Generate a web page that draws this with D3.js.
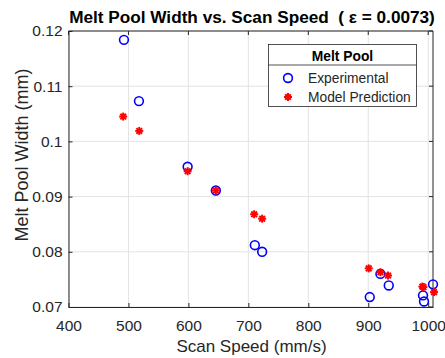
<!DOCTYPE html>
<html><head><meta charset="utf-8">
<script src="https://cdn.jsdelivr.net/npm/d3@7"></script>
<style>body{margin:0;background:#fff;} text{font-family:"Liberation Sans",Arial,Helvetica,sans-serif;}</style>
</head><body>
<svg id="c" width="445" height="358"></svg>
<script>
const expSpeed = [492.5, 517.5, 598.7, 645.8, 710.8, 723, 902.5, 920.3, 934.2, 991.3, 993, 1008];
const expWidth = [0.1184, 0.1073, 0.0954, 0.0911, 0.0812, 0.0800, 0.0718, 0.0760, 0.0739, 0.0721, 0.0710, 0.0741];
const modSpeed = [491.2, 518, 598.7, 645.8, 709.7, 723, 900.8, 920.3, 933, 990.3, 992, 1009.7];
const modWidth = [0.1045, 0.1019, 0.0946, 0.0911, 0.0868, 0.0860, 0.0770, 0.0763, 0.0757, 0.0737, 0.0736, 0.0727];
const xTicks = [400, 500, 600, 700, 800, 900, 1000];
const yTicks = [0.07, 0.08, 0.09, 0.1, 0.11, 0.12];
const xLabels = ["400","500","600","700","800","900","1000"];
const yLabels = ["0.07","0.08","0.09","0.1","0.11","0.12"];

const svg = d3.select("#c");
const L = 68.5, R = 433, T = 31, B = 307;
const x = d3.scaleLinear().domain([400, 1008]).range([L, R]);
const y = d3.scaleLinear().domain([0.07, 0.12]).range([B, T]);
const txt = "#262626";

// grid
svg.append("g").selectAll("line").data(xTicks).join("line")
  .attr("x1", d => x(d)).attr("x2", d => x(d)).attr("y1", T).attr("y2", B)
  .attr("stroke", "#e3e3e3").attr("stroke-width", 1);
svg.append("g").selectAll("line").data(yTicks).join("line")
  .attr("x1", L).attr("x2", R).attr("y1", d => y(d)).attr("y2", d => y(d))
  .attr("stroke", "#e3e3e3").attr("stroke-width", 1);

// axes
const xa = svg.append("g").attr("transform", `translate(0,${B})`)
  .call(d3.axisBottom(x).tickValues(xTicks).tickFormat((d,i) => xLabels[i]).tickSizeInner(-4).tickSizeOuter(0).tickPadding(13));
const ya = svg.append("g").attr("transform", `translate(${L},0)`)
  .call(d3.axisLeft(y).tickValues(yTicks).tickFormat((d,i) => yLabels[i]).tickSizeInner(-4).tickSizeOuter(0).tickPadding(6));
[xa, ya].forEach(a => {
  a.select(".domain").attr("stroke", txt);
  a.selectAll(".tick line").attr("stroke", txt);
  a.selectAll("text").attr("fill", txt).style("font-size", "15.5px").style("font-family", '"Liberation Sans",Arial,sans-serif');
});
// top and right box edges
svg.append("line").attr("x1", L).attr("x2", R).attr("y1", T).attr("y2", T).attr("stroke", txt);
svg.append("line").attr("x1", R).attr("x2", R).attr("y1", T).attr("y2", B).attr("stroke", txt);
svg.append("g").selectAll("line").data(xTicks).join("line")
  .attr("x1", d => x(d)).attr("x2", d => x(d)).attr("y1", T).attr("y2", T + 4).attr("stroke", txt);
svg.append("g").selectAll("line").data(yTicks).join("line")
  .attr("x1", R).attr("x2", R - 4).attr("y1", d => y(d)).attr("y2", d => y(d)).attr("stroke", txt);

// star marker
function star(g, cx, cy, s) {
  const gg = g.append("g").attr("transform", `translate(${cx},${cy})`);
  [0, 45, 90, 135].forEach(a => {
    const r = a * Math.PI / 180;
    gg.append("line").attr("x1", -s*Math.cos(r)).attr("y1", -s*Math.sin(r))
      .attr("x2", s*Math.cos(r)).attr("y2", s*Math.sin(r))
      .attr("stroke", "#ff0000").attr("stroke-width", 2);
  });
  gg.append("circle").attr("r", s*0.55).attr("fill", "#ff0000");
}

// experimental
svg.append("g").selectAll("circle").data(expSpeed).join("circle")
  .attr("cx", d => x(d)).attr("cy", (d,i) => y(expWidth[i])).attr("r", 4.4)
  .attr("fill", "none").attr("stroke", "#0000ff").attr("stroke-width", 1.6);
// model
const mg = svg.append("g");
modSpeed.forEach((d,i) => star(mg, x(d), y(modWidth[i]), 4));

// title
svg.append("text").attr("x", 252).attr("y", 22.5).attr("text-anchor", "middle")
  .attr("font-weight", "bold").attr("font-size", "17.2px").attr("fill", "#000")
  .style("white-space","pre")
  .text("Melt Pool Width vs. Scan Speed  ( ε = 0.0073)");
// axis labels
svg.append("text").attr("x", 251.5).attr("y", 352).attr("text-anchor", "middle")
  .attr("font-size", "17px").attr("fill", txt).text("Scan Speed (mm/s)");
svg.append("text").attr("transform", "translate(28,155) rotate(-90)").attr("text-anchor", "middle")
  .attr("font-size", "18px").attr("fill", txt).text("Melt Pool Width (mm)");

// legend
const lg = svg.append("g");
lg.append("rect").attr("x", 268.5).attr("y", 44.5).attr("width", 148).attr("height", 62)
  .attr("fill", "#fff").attr("stroke", "#262626").attr("stroke-width", 0.8);
lg.append("line").attr("x1", 268.5).attr("x2", 416.5).attr("y1", 65).attr("y2", 65).attr("stroke", "#262626").attr("stroke-width", 0.8);
lg.append("text").attr("x", 342.5).attr("y", 61).attr("text-anchor", "middle").attr("font-weight", "bold")
  .attr("font-size", "13.8px").attr("fill", "#000").text("Melt Pool");
lg.append("circle").attr("cx", 288).attr("cy", 78).attr("r", 4.4).attr("fill", "none").attr("stroke", "#0000ff").attr("stroke-width", 1.6);
star(lg, 288, 97, 4);
lg.append("text").attr("x", 308).attr("y", 83).attr("font-size", "13.8px").attr("fill", txt).text("Experimental");
lg.append("text").attr("x", 308).attr("y", 102).attr("font-size", "13.8px").attr("fill", txt).text("Model Prediction");
</script>
</body></html>
